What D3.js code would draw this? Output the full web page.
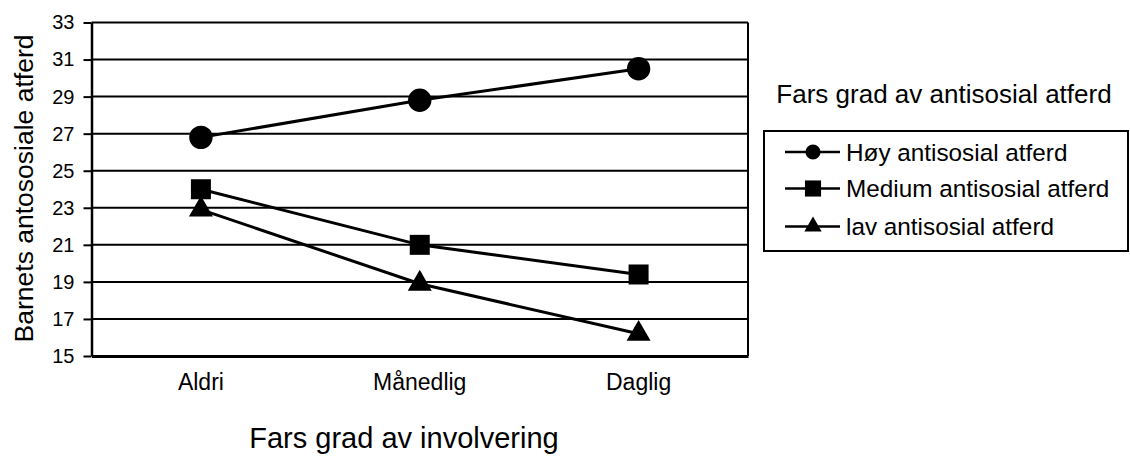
<!DOCTYPE html>
<html>
<head>
<meta charset="utf-8">
<script src="https://cdn.jsdelivr.net/npm/d3@7"></script>
<style>
  html, body { margin: 0; padding: 0; background: #fff; }
  svg { display: block; font-family: "Liberation Sans", Arial, Helvetica, sans-serif; }
</style>
</head>
<body>
<svg id="chart" width="1130" height="456"></svg>
<script>
// Involvement levels along the x axis
const categories = ["Aldri", "Månedlig", "Daglig"];

// Children's antisocial behaviour, by father's level of antisocial behaviour
const seriesNames = ["Høy antisosial atferd", "Medium antisosial atferd", "lav antisosial atferd"];
const hoyValues = [26.8, 28.8, 30.5];
const mediumValues = [24.0, 21.0, 19.4];
const lavValues = [22.9, 18.9, 16.2];

const yTicks = [15, 17, 19, 21, 23, 25, 27, 29, 31, 33];

const yTitle = "Barnets antososiale atferd";
const xTitle = "Fars grad av involvering";
const legendTitle = "Fars grad av antisosial atferd";

const series = [
  { name: seriesNames[0], values: hoyValues, symbol: d3.symbolCircle, size: 430, legendSize: 180 },
  { name: seriesNames[1], values: mediumValues, symbol: d3.symbolSquare, size: 400, legendSize: 260 },
  { name: seriesNames[2], values: lavValues, symbol: d3.symbolTriangle, size: 250, legendSize: 130 }
];

const svg = d3.select("#chart");

const plot = { left: 91.5, right: 748, top: 22.5, bottom: 356 };

const x = d3.scaleBand().domain(categories).range([plot.left, plot.right]);
const y = d3.scaleLinear().domain([15, 33]).range([plot.bottom, plot.top]);
const cx = d => x(d) + x.bandwidth() / 2;

// Horizontal gridlines
svg.append("g")
  .selectAll("line")
  .data(yTicks.filter(t => t !== 15))
  .join("line")
  .attr("x1", plot.left).attr("x2", plot.right)
  .attr("y1", d => y(d)).attr("y2", d => y(d))
  .attr("stroke", "#000").attr("stroke-width", 2);

// Right border of the plot area
svg.append("line")
  .attr("x1", plot.right).attr("x2", plot.right)
  .attr("y1", plot.top).attr("y2", plot.bottom)
  .attr("stroke", "#000").attr("stroke-width", 2);

// Y axis
const yAxis = svg.append("g")
  .attr("transform", `translate(${plot.left},0)`)
  .call(d3.axisLeft(y).tickValues(yTicks).tickSizeInner(8).tickSizeOuter(0).tickPadding(9));
yAxis.select(".domain").attr("stroke", "#000").attr("stroke-width", 2.5);
yAxis.selectAll(".tick line").attr("stroke", "#000").attr("stroke-width", 2);
yAxis.selectAll(".tick text").attr("font-size", 20).attr("fill", "#000")
  .attr("font-family", "'Liberation Sans', Arial, sans-serif");

// X axis
const xAxis = svg.append("g")
  .attr("transform", `translate(0,${plot.bottom})`)
  .call(d3.axisBottom(x).tickSizeInner(0).tickSizeOuter(0).tickPadding(18));
xAxis.select(".domain").attr("stroke", "#000").attr("stroke-width", 3);
xAxis.selectAll(".tick text").attr("font-size", 23).attr("fill", "#000")
  .attr("font-family", "'Liberation Sans', Arial, sans-serif");

// Axis titles
svg.append("text")
  .attr("transform", "translate(33,188.5) rotate(-90)")
  .attr("text-anchor", "middle")
  .attr("font-size", 26.5)
  .text(yTitle);

svg.append("text")
  .attr("x", 404).attr("y", 448)
  .attr("text-anchor", "middle")
  .attr("font-size", 29)
  .text(xTitle);

// Series lines and markers
const line = d3.line().x((d, i) => cx(categories[i])).y(d => y(d));

series.forEach(s => {
  svg.append("path")
    .datum(s.values)
    .attr("d", line)
    .attr("fill", "none")
    .attr("stroke", "#000")
    .attr("stroke-width", 3);

  svg.append("g")
    .selectAll("path")
    .data(s.values)
    .join("path")
    .attr("transform", (d, i) => `translate(${cx(categories[i])},${y(d)})`)
    .attr("d", d3.symbol().type(s.symbol).size(s.size))
    .attr("fill", "#000");
});

// Legend
svg.append("text")
  .attr("x", 944).attr("y", 102.5)
  .attr("text-anchor", "middle")
  .attr("font-size", 26)
  .text(legendTitle);

const legend = svg.append("g");
legend.append("rect")
  .attr("x", 764).attr("y", 131)
  .attr("width", 364).attr("height", 120)
  .attr("fill", "#fff").attr("stroke", "#000").attr("stroke-width", 2);

const legendRows = [152, 188.5, 226.5];
series.forEach((s, i) => {
  const ly = legendRows[i];
  legend.append("line")
    .attr("x1", 785).attr("x2", 840)
    .attr("y1", ly).attr("y2", ly)
    .attr("stroke", "#000").attr("stroke-width", 2.5);
  legend.append("path")
    .attr("transform", `translate(813,${ly})`)
    .attr("d", d3.symbol().type(s.symbol).size(s.legendSize))
    .attr("fill", "#000");
  legend.append("text")
    .attr("x", 846).attr("y", ly + 8.5)
    .attr("font-size", 24.3)
    .text(s.name);
});
</script>
</body>
</html>
